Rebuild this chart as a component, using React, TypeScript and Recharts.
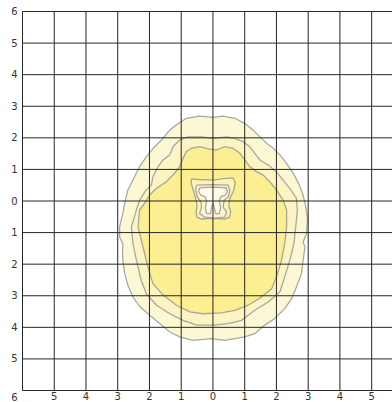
import { ReferenceLine, Scatter, ScatterChart, XAxis, YAxis } from 'recharts'

type Pt = [number, number]

const gridValues = [-6, -5, -4, -3, -2, -1, 0, 1, 2, 3, 4, 5, 6]
const xTicks = [-5, -4, -3, -2, -1, 0, 1, 2, 3, 4, 5]
const yTicks = [-6, -5, -4, -3, -2, -1, 0, 1, 2, 3, 4, 5, 6]

// contour rings (x, y)
const outerRing: Pt[] = [
  [-0.42, 2.69], [0, 2.65], [0.32, 2.69], [0.69, 2.62], [1.0, 2.46], [1.26, 2.25], [1.48, 2.03],
  [1.69, 1.83], [1.9, 1.67], [2.11, 1.46], [2.32, 1.19], [2.53, 0.88], [2.7, 0.55], [2.82, 0.25],
  [2.9, -0.05], [2.98, -0.55], [2.95, -1.03], [2.84, -1.3], [2.9, -1.46], [2.84, -1.88], [2.79, -2.3],
  [2.63, -2.72], [2.48, -3.09], [2.26, -3.41], [1.95, -3.72], [1.63, -3.93], [1.32, -4.2], [1.0, -4.3],
  [0.37, -4.41], [-0.05, -4.36], [-0.63, -4.41], [-1.05, -4.3], [-1.36, -4.15], [-1.68, -3.88],
  [-1.99, -3.62], [-2.3, -3.35], [-2.52, -3.04], [-2.68, -2.67], [-2.78, -2.3], [-2.84, -1.88],
  [-2.85, -1.67], [-2.84, -1.35], [-2.94, -1.14], [-2.94, -0.82], [-2.84, -0.4], [-2.78, -0.07],
  [-2.68, 0.35], [-2.47, 0.77], [-2.31, 1.09], [-2.1, 1.4], [-1.84, 1.72], [-1.62, 1.93],
  [-1.36, 2.25], [-1.15, 2.41], [-0.84, 2.62],
]

const middleRing: Pt[] = [
  [-0.79, 2.03], [-0.36, 2.03], [0, 1.98], [0.43, 2.03], [0.69, 1.98], [0.95, 1.88], [1.16, 1.72],
  [1.32, 1.51], [1.48, 1.3], [1.74, 1.14], [2.0, 0.93], [2.21, 0.66], [2.42, 0.4], [2.63, 0.09],
  [2.66, -0.3], [2.62, -0.7], [2.55, -1.35], [2.42, -1.88], [2.26, -2.41], [2.11, -2.88], [1.74, -3.2],
  [1.32, -3.46], [0.9, -3.78], [0.48, -3.88], [0.06, -3.93], [-0.52, -3.93], [-0.94, -3.78],
  [-1.36, -3.57], [-1.78, -3.3], [-2.1, -2.93], [-2.26, -2.51], [-2.41, -1.88], [-2.52, -1.35],
  [-2.57, -0.82], [-2.41, -0.28], [-2.31, 0.03], [-2.15, 0.29], [-1.94, 0.51], [-1.89, 0.77],
  [-1.73, 1.09], [-1.57, 1.3], [-1.36, 1.46], [-1.26, 1.72], [-1.05, 1.93],
]

const innerRing: Pt[] = [
  [-0.68, 1.67], [-0.42, 1.72], [-0.1, 1.64], [0.11, 1.61], [0.37, 1.72], [0.63, 1.67], [0.85, 1.51],
  [1.0, 1.3], [1.16, 1.09], [1.37, 0.93], [1.58, 0.82], [1.79, 0.61], [2.0, 0.35], [2.21, 0.03],
  [2.32, -0.28], [2.32, -0.82], [2.26, -1.35], [2.16, -1.88], [2.0, -2.41], [1.85, -2.78],
  [1.53, -3.04], [1.11, -3.3], [0.69, -3.46], [0.27, -3.54], [-0.31, -3.57], [-0.73, -3.51],
  [-1.15, -3.3], [-1.57, -2.98], [-1.89, -2.62], [-2.05, -2.09], [-2.2, -1.46], [-2.36, -0.82],
  [-2.31, -0.28], [-2.15, -0.07], [-1.99, 0.19], [-1.78, 0.4], [-1.47, 0.61], [-1.21, 0.88],
  [-1.05, 1.09], [-0.94, 1.35], [-0.84, 1.56],
]

const dipOuter: Pt[] = [
  [-0.68, 0.7], [-0.42, 0.68], [0, 0.66], [0.32, 0.71], [0.63, 0.73], [0.7, 0.6], [0.66, 0.35],
  [0.53, 0.07], [0.5, -0.14], [0.56, -0.35], [0.51, -0.52], [0.37, -0.57], [0, -0.55], [-0.36, -0.57],
  [-0.5, -0.52], [-0.53, -0.35], [-0.5, -0.14], [-0.54, 0.07], [-0.62, 0.34], [-0.68, 0.55],
]

const dipMiddle: Pt[] = [
  [-0.52, 0.5], [0, 0.52], [0.48, 0.5], [0.53, 0.34], [0.48, 0.13], [0.35, 0.02], [0.32, -0.19],
  [0.43, -0.35], [0.37, -0.51], [0.06, -0.54], [-0.26, -0.51], [-0.42, -0.4], [-0.36, -0.19],
  [-0.38, -0.03], [-0.49, 0.13], [-0.54, 0.34],
]

const dipInner: Pt[] = [
  [-0.42, 0.42], [0, 0.44], [0.42, 0.42], [0.45, 0.3], [0.38, 0.18], [0.25, 0.14], [0.2, 0.0],
  [0.24, -0.22], [0.2, -0.4], [0.08, -0.4], [0.03, -0.15], [0, -0.08], [-0.03, -0.15], [-0.08, -0.4],
  [-0.2, -0.4], [-0.24, -0.22], [-0.2, 0.0], [-0.25, 0.14], [-0.38, 0.18], [-0.45, 0.3],
]

const rings = [
  { name: 'outer', pts: outerRing, fill: '#fdf8d4' },
  { name: 'middle', pts: middleRing, fill: '#fcf4c2' },
  { name: 'inner', pts: innerRing, fill: '#fbef92' },
  { name: 'dipOuter', pts: dipOuter, fill: '#fcf3b4' },
  { name: 'dipMiddle', pts: dipMiddle, fill: '#fdf7d0' },
  { name: 'dipInner', pts: dipInner, fill: '#fefbe8' },
]

const closed = (pts: Pt[]) => [...pts, pts[0]].map(([x, y]) => ({ x, y }))

const font = 'DejaVu Sans'

function YTick({ x, y, payload }: any) {
  // the bottom label sits below the last grid line
  const shift = payload.value === -6 ? 7 : 0
  return (
    <text x={x} y={y + shift} dy="0.355em" textAnchor="end" fontSize={10} fill="#333" fontFamily={font}>
      {Math.abs(payload.value)}
    </text>
  )
}

export default function App() {
  return (
    <div style={{ position: 'absolute', left: 0, top: 0, width: 392, height: 402, overflow: 'hidden', background: '#fff' }}>
      <ScatterChart width={404} height={402} margin={{ top: 11.5, right: 0.6, bottom: 0, left: 0 }}>
        <XAxis
          type="number"
          dataKey="x"
          domain={[-6, 6]}
          ticks={xTicks}
          allowDataOverflow
          axisLine={false}
          tickLine={false}
          tickSize={2}
          tickMargin={0}
          height={11.5}
          interval={0}
          tickFormatter={(v: number) => String(Math.abs(v))}
          tick={{ fontSize: 10, fill: '#333', fontFamily: font }}
        />
        <YAxis
          type="number"
          dataKey="y"
          domain={[-6, 6]}
          ticks={yTicks}
          allowDataOverflow
          axisLine={false}
          tickLine={false}
          tickSize={5}
          tickMargin={0}
          width={22.5}
          interval={0}
          tick={<YTick />}
        />
        {rings.map((r) => (
          <Scatter
            key={r.name}
            data={closed(r.pts)}
            isAnimationActive={false}
            shape={() => <g />}
            line={{ fill: r.fill, stroke: '#939393', strokeWidth: 1.3, strokeOpacity: 0.8 }}
            lineType="joint"
            lineJointType="linear"
          />
        ))}
        {gridValues.map((v) => (
          <ReferenceLine key={'gx' + v} x={v} stroke="#262626" strokeWidth={1} zIndex={700} />
        ))}
        {gridValues.map((v) => (
          <ReferenceLine key={'gy' + v} y={v} stroke="#262626" strokeWidth={1} zIndex={700} />
        ))}
      </ScatterChart>
    </div>
  )
}
